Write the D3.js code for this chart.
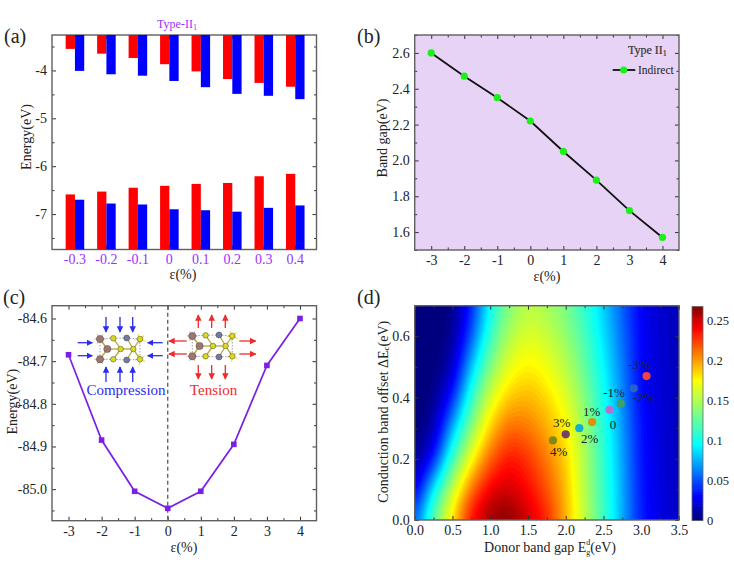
<!DOCTYPE html>
<html>
<head>
<meta charset="utf-8">
<script src="https://cdn.jsdelivr.net/npm/d3@7"></script>
<style>
  body { margin: 0; background: #fff; }
  text { font-family: "Liberation Serif", serif; fill: #222; }
  .tick text { font-family: "Liberation Serif", serif; font-size: 14px; fill: #222; }
</style>
</head>
<body>
<script>
// Panel (a)
const strainA = ["-0.3", "-0.2", "-0.1", "0", "0.1", "0.2", "0.3", "0.4"];
const cbmRed = [-3.55, -3.65, -3.74, -3.87, -4.02, -4.18, -4.26, -4.34];
const cbmBlue = [-4.01, -4.08, -4.11, -4.22, -4.35, -4.49, -4.53, -4.60];
const vbmRed = [-6.59, -6.53, -6.45, -6.41, -6.37, -6.35, -6.21, -6.16];
const vbmBlue = [-6.70, -6.78, -6.80, -6.90, -6.92, -6.95, -6.87, -6.82];

// Panels (b) and (c)
const strain = [-3, -2, -1, 0, 1, 2, 3, 4];
const bandGap = [2.6, 2.47, 2.35, 2.22, 2.05, 1.89, 1.72, 1.57];
const energy = [-84.685, -84.885, -85.005, -85.045, -85.005, -84.895, -84.71, -84.60];

// Panel (d), efficiency at each heatX (columns) and heatY (rows)
const heatX = [0, 0.25, 0.5, 0.75, 1, 1.25, 1.5, 1.75, 2, 2.25, 2.5, 2.75, 3, 3.25, 3.5];
const heatY = [0, 0.1, 0.2, 0.3, 0.4, 0.5, 0.6, 0.7];
const heatRows = [
  [0.055, 0.130, 0.188, 0.243, 0.266, 0.270, 0.252, 0.234, 0.196, 0.157, 0.114, 0.074, 0.035, 0.024, 0.018],
  [0.014, 0.094, 0.160, 0.213, 0.246, 0.250, 0.238, 0.219, 0.193, 0.152, 0.112, 0.074, 0.034, 0.023, 0.017],
  [0.002, 0.030, 0.115, 0.174, 0.216, 0.238, 0.228, 0.209, 0.188, 0.150, 0.109, 0.072, 0.033, 0.022, 0.016],
  [0.000, 0.008, 0.075, 0.140, 0.190, 0.215, 0.210, 0.196, 0.179, 0.145, 0.106, 0.070, 0.032, 0.022, 0.016],
  [0.000, 0.002, 0.035, 0.110, 0.165, 0.190, 0.194, 0.186, 0.166, 0.137, 0.100, 0.066, 0.030, 0.021, 0.016],
  [0.000, 0.000, 0.012, 0.080, 0.136, 0.170, 0.180, 0.171, 0.154, 0.127, 0.094, 0.062, 0.029, 0.021, 0.015],
  [0.000, 0.000, 0.004, 0.050, 0.114, 0.151, 0.167, 0.159, 0.143, 0.118, 0.088, 0.058, 0.028, 0.020, 0.015],
  [0.000, 0.000, 0.001, 0.035, 0.096, 0.136, 0.153, 0.147, 0.132, 0.108, 0.082, 0.054, 0.027, 0.020, 0.015]
];
const pointX = [3.07, 2.9, 2.73, 2.58, 2.35, 2.18, 2.0, 1.83];
const pointY = [0.47, 0.43, 0.38, 0.36, 0.32, 0.30, 0.28, 0.26];
const pointColors = ["#f5423a", "#2a62c8", "#3f9f6a", "#b870d0", "#d8920f", "#12b0cc", "#70465e", "#7f8a10"];
const pointLabels = ["-3%", "-2%", "-1%", "0", "1%", "2%", "3%", "4%"];
const labelShift = [[-7.8, -12], [10, 9.3], [-6.8, -11], [3.5, 14.5], [-0.5, -11], [10.4, 10.8], [-4, -11.3], [5.8, 11.6]];

const jet = d3.scaleLinear()
  .domain([0, 0.029, 0.0935, 0.134, 0.174, 0.238, 0.267])
  .range(["#00007f", "#0000ff", "#00ffff", "#80ff80", "#ffff00", "#ff0000", "#7f0000"]);

const svg = d3.select("body").append("svg").attr("width", 734).attr("height", 570);
const purple = "#9b30ff";
const inkGray = "#606060";

function panel(left, top) {
  return svg.append("g").attr("transform", `translate(${left},${top})`);
}

// Origin style: inward ticks on all four sides, labels only bottom and left
function frameAxes(g, x, y, w, h, o) {
  const minorTick = (axis, vals, size) => axis.tickValues(vals).tickSize(size).tickFormat("");
  const sides = [
    [d3.axisBottom, x, `translate(0,${h})`, o.xMajor, o.xMinor, true],
    [d3.axisTop, x, null, o.xMajor, o.xMinor, false],
    [d3.axisLeft, y, null, o.yMajor, o.yMinor, true],
    [d3.axisRight, y, `translate(${w},0)`, o.yMajor, o.yMinor, false]
  ];
  sides.forEach(([make, scale, tr, major, minor, labelled]) => {
    const main = make(scale).tickValues(major).tickSize(-4).tickPadding(5);
    main.tickFormat(labelled ? (scale === x ? o.xFormat : o.yFormat) : "");
    const a = g.append("g").attr("transform", tr).call(main);
    if (minor) g.append("g").attr("transform", tr).call(minorTick(make(scale), minor, -2.5));
    g.selectAll(".domain").remove();
    a.selectAll("line").attr("stroke", "#333");
  });
  g.selectAll(".tick line").attr("stroke", "#333");
  g.append("rect").attr("width", w).attr("height", h)
    .attr("fill", "none").attr("stroke", inkGray).attr("stroke-width", 1.4);
}

function label(x, y, txt, size, rotate) {
  const t = svg.append("text").attr("text-anchor", "middle").attr("dominant-baseline", "central")
    .attr("font-size", size)
    .attr("transform", `translate(${x},${y})` + (rotate ? " rotate(-90)" : ""));
  if (txt) t.text(txt);
  return t;
}

[["(a)", 4, 43], ["(b)", 357, 43], ["(c)", 3, 304], ["(d)", 357, 304]].forEach(d => {
  svg.append("text").attr("x", d[1]).attr("y", d[2]).attr("font-size", 20).text(d[0]);
});

// ---------- (a)
{
  const w = 264.5, h = 214.5;
  const g = panel(52, 35);
  const x = d3.scaleBand().domain(strainA).range([7.2, 259]).paddingInner(0.41).paddingOuter(0.205);
  const sub = d3.scaleBand().domain([0, 1]).range([0, x.bandwidth()]);
  const y = d3.scaleLinear().domain([-7.74, -3.26]).range([h, 0]);
  frameAxes(g, x, y, w, h, {
    xMajor: strainA, xFormat: d => d,
    yMajor: [-7, -6, -5, -4], yMinor: [-7.5, -6.5, -5.5, -4.5, -3.5], yFormat: d => d
  });
  g.selectAll(".tick text").filter(function () { return this.getAttribute("dy") === "0.71em"; }).style("fill", purple);

  const topBars = (vals, i, color) => g.append("g").selectAll("rect").data(vals).join("rect")
    .attr("x", (d, k) => x(strainA[k]) + sub(i)).attr("width", sub.bandwidth())
    .attr("y", 0).attr("height", d => y(d)).attr("fill", color);
  const lowBars = (vals, i, color) => g.append("g").selectAll("rect").data(vals).join("rect")
    .attr("x", (d, k) => x(strainA[k]) + sub(i)).attr("width", sub.bandwidth())
    .attr("y", d => y(d)).attr("height", d => h - y(d)).attr("fill", color);
  topBars(cbmRed, 0, "#ff0000");
  topBars(cbmBlue, 1, "#0000ff");
  lowBars(vbmRed, 0, "#ff0000");
  lowBars(vbmBlue, 1, "#0000ff");

  const t = label(177, 24, null, 12).style("fill", purple);
  t.append("tspan").text("Type-II").style("fill", purple);
  t.append("tspan").text("1").attr("font-size", 8).attr("dy", 3).style("fill", purple);
  label(26, 137, "Energy(eV)", 14, true);
  label(183, 274, "ε(%)", 14);
}

// ---------- (b)
{
  const w = 264.3, h = 215;
  const g = panel(414.7, 35);
  const x = d3.scaleLinear().domain([-3.5, 4.5]).range([0, w]);
  const y = d3.scaleLinear().domain([1.5, 2.7]).range([h, 0]);
  g.append("rect").attr("width", w).attr("height", h).attr("fill", "#e6d3f6");
  frameAxes(g, x, y, w, h, {
    xMajor: strain, xMinor: d3.range(-2.5, 4, 1), xFormat: d => d,
    yMajor: [1.6, 1.8, 2.0, 2.2, 2.4, 2.6], yMinor: [1.5, 1.7, 1.9, 2.1, 2.3, 2.5, 2.7], yFormat: d => d.toFixed(1)
  });
  const line = d3.line().x((d, i) => x(strain[i])).y(d => y(d));
  g.append("path").attr("d", line(bandGap)).attr("fill", "none").attr("stroke", "#111").attr("stroke-width", 1.8);
  g.append("g").selectAll("circle").data(bandGap).join("circle")
    .attr("cx", (d, i) => x(strain[i])).attr("cy", d => y(d)).attr("r", 3.6).attr("fill", "#19f219");

  const t = svg.append("text").attr("x", 628).attr("y", 50).attr("dominant-baseline", "central").attr("font-size", 12)
    .style("fill", "#333").style("stroke", "#333").style("stroke-width", 0.2);
  t.append("tspan").text("Type II");
  t.append("tspan").text("1").attr("font-size", 8).attr("dy", 3);
  svg.append("line").attr("x1", 612.7).attr("x2", 635.3).attr("y1", 70).attr("y2", 70).attr("stroke", "#111").attr("stroke-width", 1.8);
  svg.append("circle").attr("cx", 623.7).attr("cy", 70).attr("r", 3.6).attr("fill", "#19f219");
  svg.append("text").attr("x", 638).attr("y", 70).attr("dominant-baseline", "central").attr("font-size", 11.5).text("Indirect");
  label(382, 138, "Band gap(eV)", 14, true);
  label(547, 276, "ε(%)", 14);
}

// ---------- (c)
{
  const w = 264.5, h = 215;
  const g = panel(52, 305.7);
  const x = d3.scaleLinear().domain([-3.5, 4.5]).range([0, w]);
  const y = d3.scaleLinear().domain([-85.074, -84.57]).range([h, 0]);
  frameAxes(g, x, y, w, h, {
    xMajor: strain, xMinor: d3.range(-2.5, 4, 1), xFormat: d => d,
    yMajor: [-85, -84.9, -84.8, -84.7, -84.6], yMinor: [-85.05, -84.95, -84.85, -84.75, -84.65], yFormat: d => d.toFixed(1)
  });
  g.append("line").attr("x1", x(0)).attr("x2", x(0)).attr("y1", 0).attr("y2", h)
    .attr("stroke", "#666").attr("stroke-width", 1.4).attr("stroke-dasharray", "4 3");
  const line = d3.line().x((d, i) => x(strain[i])).y(d => y(d));
  g.append("path").attr("d", line(energy)).attr("fill", "none").attr("stroke", "#7a1fe6").attr("stroke-width", 1.7);
  g.append("g").selectAll("rect").data(energy).join("rect")
    .attr("x", (d, i) => x(strain[i]) - 2.8).attr("y", d => y(d) - 2.8)
    .attr("width", 5.6).attr("height", 5.6).attr("fill", "#7a1fe6");

  label(12, 401.7, "Energy(eV)", 14, true);
  label(184, 547, "ε(%)", 14);
  label(126, 390, "Compression", 15).style("fill", "#2b2bf2");
  label(213.5, 390, "Tension", 15).style("fill", "#f02a2a");

  // sketch of the strained cell, same drawing twice
  const atoms = [[0, 0, "b"], [7.3, 10, "b"], [0, 20.3, "b"], [26.7, -1, "s"], [26.7, 21, "s"],
    [13.3, -0.7, "y"], [40, 0, "y"], [20.7, 10, "y"], [33.3, 10, "y"], [13.3, 20.3, "y"], [40, 20.3, "y"]];
  const bonds = [[0, 1], [1, 2], [7, 5], [7, 8], [7, 9], [8, 6], [8, 10], [3, 8], [4, 8], [1, 7]];
  const dashes = [[0, 5], [5, 3], [3, 6], [2, 9], [9, 4], [4, 10], [0, 2], [6, 10]];
  const atomFill = { b: "#9c7672", s: "#7478a8", y: "#dcd81e" };
  const atomR = { b: 3.6, s: 3, y: 2.8 };
  function cell(ox, oy) {
    const c = svg.append("g").attr("transform", `translate(${ox},${oy})`);
    [0, 2].forEach(i => d3.range(0, 6.2, 1.05).forEach(a => {
      c.append("line").attr("x1", atoms[i][0]).attr("y1", atoms[i][1])
        .attr("x2", atoms[i][0] + 5.5 * Math.cos(a)).attr("y2", atoms[i][1] + 5.5 * Math.sin(a))
        .attr("stroke", "#d9aeb0").attr("stroke-width", 1);
    }));
    [6, 10].forEach(i => d3.range(0.4, 6.2, 1.3).forEach(a => {
      c.append("line").attr("x1", atoms[i][0]).attr("y1", atoms[i][1])
        .attr("x2", atoms[i][0] + 5.5 * Math.cos(a)).attr("y2", atoms[i][1] + 5.5 * Math.sin(a))
        .attr("stroke", "#e8e040").attr("stroke-width", 1.1);
    }));
    dashes.forEach(b => c.append("line")
      .attr("x1", atoms[b[0]][0]).attr("y1", atoms[b[0]][1]).attr("x2", atoms[b[1]][0]).attr("y2", atoms[b[1]][1])
      .attr("stroke", "#777").attr("stroke-width", 0.7).attr("stroke-dasharray", "1.5 1.5"));
    bonds.forEach(b => c.append("line")
      .attr("x1", atoms[b[0]][0]).attr("y1", atoms[b[0]][1]).attr("x2", atoms[b[1]][0]).attr("y2", atoms[b[1]][1])
      .attr("stroke", "#b9a83a").attr("stroke-width", 1.3));
    c.selectAll("circle").data(atoms).join("circle")
      .attr("cx", d => d[0]).attr("cy", d => d[1]).attr("r", d => atomR[d[2]])
      .attr("fill", d => atomFill[d[2]]).attr("stroke", "#4a4a30").attr("stroke-width", 0.5);
  }
  cell(100, 339);
  cell(192.3, 336);

  const defs = svg.append("defs");
  [["arrowBlue", "#2b2bf2"], ["arrowRed", "#f02a2a"]].forEach(([id, col]) => {
    defs.append("marker").attr("id", id).attr("viewBox", "0 0 8 8").attr("refX", 7).attr("refY", 4)
      .attr("markerWidth", 5).attr("markerHeight", 5).attr("orient", "auto")
      .append("path").attr("d", "M0,0L8,4L0,8z").attr("fill", col);
  });
  const arrows = [
    [106, 317, 106, 332], [120, 317, 120, 332], [132.7, 317, 132.7, 332],
    [106, 382, 106, 367], [120, 382, 120, 367], [132.7, 382, 132.7, 367],
    [77.7, 342.7, 92.3, 342.7], [77.7, 355.7, 92.3, 355.7],
    [162.7, 342.7, 147.7, 342.7], [162.7, 355.7, 147.7, 355.7]
  ];
  const arrowsOut = [
    [198.3, 328, 198.3, 315], [211.7, 328, 211.7, 315], [225.3, 328, 225.3, 315],
    [198.3, 365, 198.3, 379], [211.7, 365, 211.7, 379], [225.3, 365, 225.3, 379],
    [186.7, 341, 169, 341], [186.7, 354, 169, 354],
    [239.3, 341, 255.7, 341], [239.3, 354, 255.7, 354]
  ];
  const drawArrows = (list, col, id) => svg.append("g").selectAll("line").data(list).join("line")
    .attr("x1", d => d[0]).attr("y1", d => d[1]).attr("x2", d => d[2]).attr("y2", d => d[3])
    .attr("stroke", col).attr("stroke-width", 1.3).attr("marker-end", `url(#${id})`);
  drawArrows(arrows, "#2b2bf2", "arrowBlue");
  drawArrows(arrowsOut, "#f02a2a", "arrowRed");
}

// ---------- (d)
{
  const w = 264.3, h = 214.3;
  const g = panel(414.7, 305.7);
  const x = d3.scaleLinear().domain([0, 3.5]).range([0, w]);
  const y = d3.scaleLinear().domain([0, 0.7]).range([h, 0]);

  // resample the table onto a fine grid for contouring
  const nx = 141, ny = 57, dx = 3.5 / (nx - 1), dy = 0.7 / (ny - 1);
  const values = new Float64Array(nx * ny);
  for (let j = 0; j < ny; j++) {
    const fy = Math.min(j * dy / 0.1, heatY.length - 1.000001), j0 = Math.floor(fy), ty = fy - j0;
    for (let i = 0; i < nx; i++) {
      const fx = Math.min(i * dx / 0.25, heatX.length - 1.000001), i0 = Math.floor(fx), tx = fx - i0;
      const a = heatRows[j0][i0] * (1 - tx) + heatRows[j0][i0 + 1] * tx;
      const b = heatRows[j0 + 1][i0] * (1 - tx) + heatRows[j0 + 1][i0 + 1] * tx;
      values[j * nx + i] = a * (1 - ty) + b * ty;
    }
  }
  d3.blur2({ data: values, width: nx, height: ny }, 3);

  svg.append("clipPath").attr("id", "heatClip").append("rect").attr("width", w).attr("height", h);
  const heat = g.append("g").attr("clip-path", "url(#heatClip)");
  heat.append("rect").attr("width", w).attr("height", h).attr("fill", jet(0));
  const toPlot = d3.geoTransform({
    point(px, py) { this.stream.point(x((px - 0.5) * dx), y((py - 0.5) * dy)); }
  });
  const levels = d3.range(0.003, 0.27, 0.003);
  heat.selectAll("path").data(d3.contours().size([nx, ny]).thresholds(levels)(Array.from(values))).join("path")
    .attr("d", d3.geoPath(toPlot)).attr("fill", d => jet(d.value));

  frameAxes(g, x, y, w, h, {
    xMajor: [0, 0.5, 1, 1.5, 2, 2.5, 3, 3.5], xMinor: d3.range(0.25, 3.5, 0.5), xFormat: d => d.toFixed(1),
    yMajor: [0, 0.2, 0.4, 0.6], yMinor: [0.1, 0.3, 0.5, 0.7], yFormat: d => d.toFixed(1)
  });

  g.append("g").selectAll("circle").data(pointX).join("circle")
    .attr("cx", d => x(d)).attr("cy", (d, i) => y(pointY[i])).attr("r", 4.1)
    .attr("fill", (d, i) => pointColors[i]);
  g.append("g").selectAll("text").data(pointLabels).join("text")
    .attr("x", (d, i) => x(pointX[i]) + labelShift[i][0]).attr("y", (d, i) => y(pointY[i]) + labelShift[i][1])
    .attr("text-anchor", "middle").attr("dominant-baseline", "central").attr("font-size", 13)
    .text(d => d);

  // colorbar
  const cb = panel(692, 306.7);
  const cw = 11, ch = 213.8;
  const cy = d3.scaleLinear().domain([0, 0.267]).range([ch, 0]);
  const steps = d3.range(0, 0.267, 0.00267);
  cb.selectAll("rect").data(steps).join("rect")
    .attr("x", 0).attr("width", cw).attr("y", d => cy(d + 0.00267) - 0.3).attr("height", ch * 0.01 + 0.6)
    .attr("fill", d => jet(d));
  cb.append("rect").attr("width", cw).attr("height", ch).attr("fill", "none").attr("stroke", "#666").attr("stroke-width", 0.8);
  const cbAxis = cb.append("g").attr("transform", `translate(${cw},0)`)
    .call(d3.axisRight(cy).tickValues([0, 0.05, 0.1, 0.15, 0.2, 0.25]).tickSize(0).tickPadding(4).tickFormat(d => d));
  cbAxis.select(".domain").remove();
  cbAxis.selectAll("text").style("font-size", "12.5px");

  const yl = label(382.7, 411.7, null, 14, true);
  yl.append("tspan").text("Conduction band offset ΔE");
  yl.append("tspan").text("c").attr("font-size", 9).attr("dy", 3);
  yl.append("tspan").text("(eV)").attr("dy", -3);

  const xl = label(550, 547, null, 14);
  xl.append("tspan").text("Donor band gap E");
  xl.append("tspan").text("g").attr("font-size", 8).attr("dy", 5);
  xl.append("tspan").text("d").attr("font-size", 8).attr("dx", -4).attr("dy", -10.5);
  xl.append("tspan").text("(eV)").attr("dy", 5.5);
}
</script>
</body>
</html>
